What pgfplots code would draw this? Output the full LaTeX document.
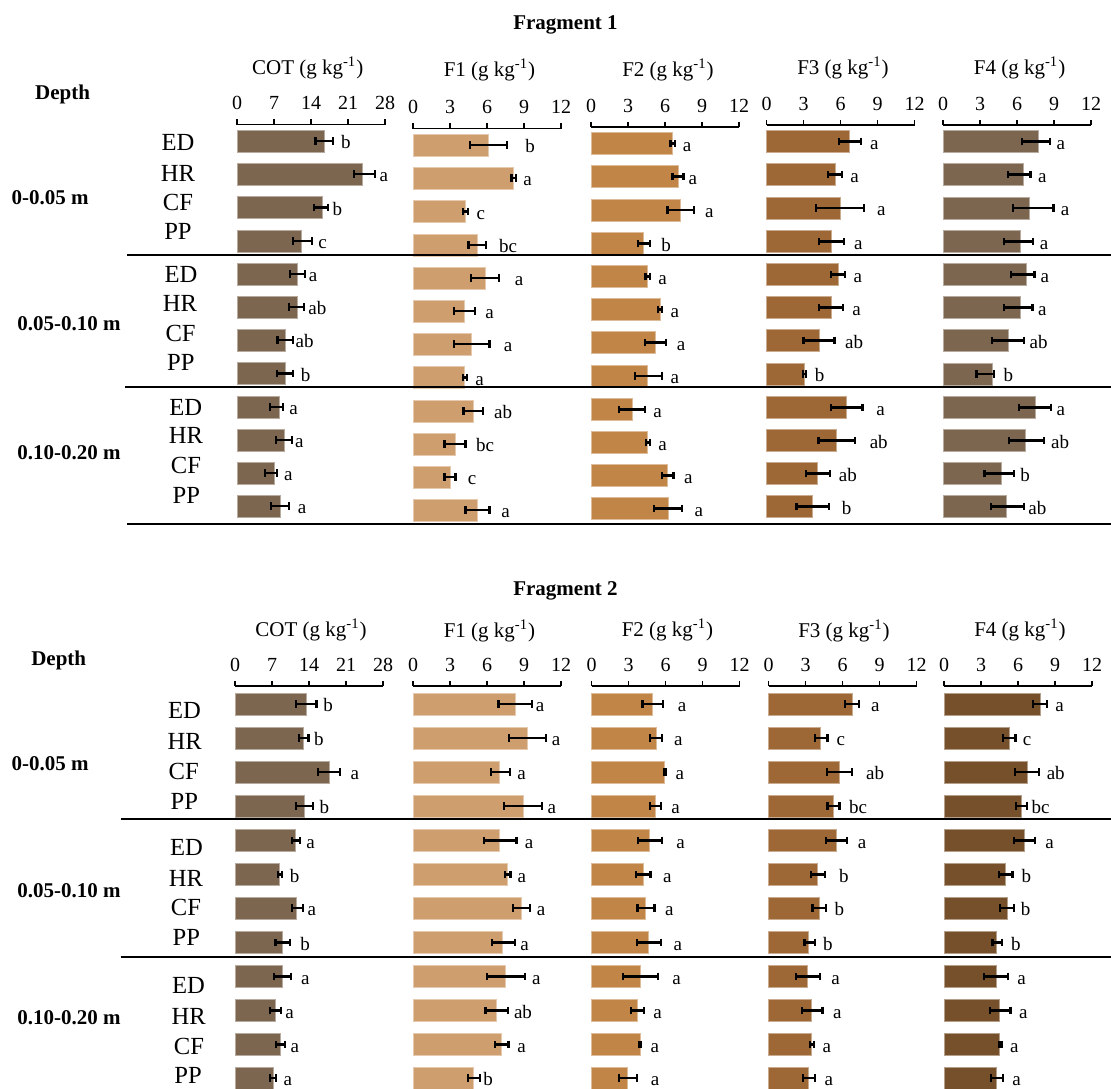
\documentclass[border=0pt]{standalone}
\usepackage{fontspec}
\setmainfont{Liberation Serif}
\usepackage{pgfplots}
\usepackage{pgfplotstable}
\pgfplotsset{compat=1.18}

\definecolor{cCOT}{RGB}{124,102,80}
\definecolor{cFa}{RGB}{207,158,110}
\definecolor{cFb}{RGB}{193,133,72}
\definecolor{cFc}{RGB}{157,104,53}
\definecolor{cFd}{RGB}{117,80,42}

% fragment 1 -------------------------------------------------
\pgfplotstableread{
y v em ep lx lab
141 16.45 1.6 1.65 20.6 b
174 23.8 1.6 2.3 27.8 a
207.5 16.2 1.6 0.95 19.0 b
241 12.1 1.55 2.05 16.2 c
274 11.5 1.55 1.35 14.4 a
307 11.5 1.7 1.1 15.2 ab
340 9.2 1.55 1.4 12.8 ab
373.5 9.2 1.7 1.4 13.0 b
407 8.0 1.7 0.65 10.7 a
440 9.0 1.65 1.45 11.8 a
473 7.0 1.65 0.6 9.7 a
506 8.2 1.7 1.6 12.3 a
}\tAcot
\pgfplotstableread{
y v em ep lx lab
141 6.1 1.45 1.55 9.5 b
174 8.1 0.12 0.25 9.3 a
207.5 4.25 0.17 0.2 5.5 c
241 5.2 0.7 0.75 7.7 bc
274 5.85 1.15 1.15 8.6 a
307 4.2 0.85 0.85 6.2 a
340 4.7 1.35 1.5 7.7 a
373.5 4.2 0.15 0.2 5.4 a
407 4.9 0.8 0.8 7.3 ab
440 3.4 0.85 0.85 5.85 bc
473 3.0 0.45 0.45 4.8 c
506 5.2 0.95 1.0 7.5 a
}\tAfa
\pgfplotstableread{
y v em ep lx lab
141 6.6 0.15 0.22 7.8 a
174 7.05 0.45 0.45 8.25 a
207.5 7.25 1.05 1.1 9.6 a
241 4.25 0.45 0.55 6.1 b
274 4.57 0.15 0.23 5.8 a
307 5.6 0.15 0.18 6.8 a
340 5.2 0.85 0.9 7.3 a
373.5 4.6 1.05 1.15 6.8 a
407 3.35 1.1 1.05 5.4 a
440 4.6 0.12 0.2 5.8 a
473 6.2 0.42 0.48 7.9 a
506 6.3 1.2 1.1 8.75 a
}\tAfb
\pgfplotstableread{
y v em ep lx lab
141 6.75 0.9 0.9 8.75 a
174 5.55 0.55 0.58 7.15 a
207.5 5.95 1.93 1.97 9.3 a
241 5.25 1.0 1.0 7.45 a
274 5.8 0.57 0.56 7.4 a
307 5.25 0.97 0.97 7.3 a
340 4.25 1.25 1.27 7.1 ab
373.5 3.05 0.1 0.13 4.3 b
407 6.45 1.25 1.33 9.25 a
440 5.7 1.48 1.47 9.1 ab
473 4.15 0.94 0.97 6.6 ab
506 3.75 1.32 1.34 6.5 b
}\tAfc
\pgfplotstableread{
y v em ep lx lab
141 7.75 1.32 0.92 9.55 a
174 6.55 1.3 0.55 8.05 a
207.5 7.0 1.35 1.96 9.9 a
241 6.25 1.32 1.05 8.2 a
274 6.8 1.32 0.62 8.25 a
307 6.25 1.32 1.0 8.05 a
340 5.3 1.36 1.28 7.75 ab
373.5 4.0 1.28 0.14 5.3 b
407 7.5 1.36 1.25 9.55 a
440 6.7 1.34 1.5 9.5 ab
473 4.7 1.34 1.04 6.65 b
506 5.15 1.29 1.4 7.65 ab
}\tAfd
% fragment 2 -------------------------------------------------
\pgfplotstableread{
y v em ep lx lab
704 13.46 1.95 1.95 17.6 b
738 12.95 0.87 0.95 15.85 b
772 17.8 2.1 2.1 22.65 a
806 13.1 1.6 1.6 16.9 b
840.5 11.5 0.65 0.87 14.3 a
874.5 8.47 0.3 0.43 11.3 b
908 11.7 0.95 1.1 14.55 a
942.5 9.05 1.38 1.37 13.25 b
976.5 9.05 1.67 1.6 13.3 a
1010.5 7.67 1.0 1.1 10.35 a
1044.5 8.6 0.8 0.9 11.3 a
1078 7.24 0.58 0.58 10.0 a
}\tBcot
\pgfplotstableread{
y v em ep lx lab
704 8.3 1.37 1.34 10.3 a
738 9.26 1.5 1.5 11.6 a
772 7.03 0.72 0.83 8.8 a
806 8.92 1.52 1.56 11.25 a
840.5 7.03 1.25 1.36 9.42 a
874.5 7.68 0.22 0.22 8.83 a
908 8.77 0.66 0.74 10.38 a
942.5 7.27 0.87 0.97 9.05 a
976.5 7.49 1.46 1.56 10.0 a
1010.5 6.78 0.91 0.93 8.92 ab
1044.5 7.15 0.5 0.59 8.8 a
1078 4.91 0.46 0.5 6.1 b
}\tBfa
\pgfplotstableread{
y v em ep lx lab
704 4.92 0.78 0.88 7.34 a
738 5.24 0.49 0.5 7.05 a
772 5.94 0.09 0.12 7.17 a
806 5.16 0.41 0.46 6.82 a
840.5 4.72 0.93 0.99 7.22 a
874.5 4.19 0.58 0.59 6.15 a
908 4.4 0.67 0.7 6.32 a
942.5 4.63 0.96 0.99 6.99 a
976.5 3.96 1.4 1.4 6.9 a
1010.5 3.73 0.5 0.52 5.36 a
1044.5 3.93 0.06 0.06 5.13 a
1078 2.94 0.7 0.76 5.16 a
}\tBfb
\pgfplotstableread{
y v em ep lx lab
704 6.77 0.55 0.56 8.67 a
738 4.23 0.49 0.56 5.87 c
772 5.78 1.02 0.99 8.64 ab
806 5.28 0.49 0.47 7.27 bc
840.5 5.49 0.82 0.87 7.59 a
874.5 4.0 0.55 0.55 6.1 b
908 4.09 0.53 0.58 5.75 b
942.5 3.27 0.35 0.47 4.82 b
976.5 3.18 0.93 1.02 5.43 a
1010.5 3.5 0.78 0.88 5.58 a
1044.5 3.5 0.11 0.18 4.73 a
1078 3.27 0.5 0.5 4.9 a
}\tBfc
\pgfplotstableread{
y v em ep lx lab
704 7.78 0.56 0.58 9.38 a
738 5.27 0.49 0.53 6.73 c
772 6.73 0.96 0.99 9.06 ab
806 6.26 0.4 0.47 7.84 bc
840.5 6.52 0.84 0.85 8.56 a
874.5 5.01 0.55 0.55 6.67 b
908 5.1 0.53 0.55 6.61 b
942.5 4.28 0.35 0.44 5.83 b
976.5 4.22 0.96 0.97 6.29 a
1010.5 4.51 0.81 0.88 6.44 a
1044.5 4.51 0.08 0.15 5.71 a
1078 4.28 0.46 0.5 5.88 a
}\tBfd

\newcommand{\ticfont}{\fontsize{10}{11}\selectfont}
\newcommand{\letfont}{\fontsize{9.5}{11}\selectfont}
\newcommand{\hdfont}{\fontsize{10.5}{12}\selectfont}
\newcommand{\trfont}{\fontsize{12.3}{14}\selectfont}

\pgfplotsset{
  panel/.style={
    scale only axis, width=74pt, xmin=0,
    axis x line*=top, axis y line=none,
    x axis line style={-, line width=0.75pt, black},
    tick align=outside, major tick length=2.6pt,
    xtick style={line width=0.7pt, black},
    ytick=\empty,
    xticklabel style={font=\ticfont, anchor=base, yshift=4.9pt},
    /pgf/number format/assume math mode=true,
    clip=false, enlargelimits=false,
    anchor=north west,
  }
}

% #1 x px, #2 y px (top), #3 xmax, #4 xticks, #5 ymin, #6 ymax, #7 height, #8 colour, #9 table
\newcommand{\panel}[9]{%
  \begin{axis}[panel, at={({#1*0.5pt},{-#2*0.5pt})}, xmax=#3, xtick={#4}, ymin=#5, ymax=#6, height=#7]
    \addplot[xbar, bar shift=0pt, bar width=11pt, fill=#8, draw=#8!55!white, line width=0.4pt,
      error bars/.cd, x dir=both, x explicit,
      error mark=|,
      error bar style={line width=1.1pt, black},
      error mark options={line width=1.1pt, black, mark size=1.9pt}]
      table[x=v, y expr=-\thisrow{y}, x error plus=ep, x error minus=em] {#9};
    \addplot[draw=none, nodes near coords, point meta=explicit symbolic,
      every node near coord/.append style={anchor=base, yshift=-3.8pt, font=\letfont, inner sep=0pt}]
      table[x=lx, y expr=-\thisrow{y}, meta=lab] {#9};
  \end{axis}}

\begin{document}
\begin{tikzpicture}
\useasboundingbox (0pt,0pt) rectangle (555.5pt,-544pt);

% ---------- Fragment 1 ----------
\panel{237}{124.5}{28}{0,7,14,21,28}{-524}{-124.5}{199.75pt}{cCOT}{\tAcot}
\panel{413}{128.5}{12}{0,3,6,9,12}{-524}{-124.5}{199.75pt}{cFa}{\tAfa}
\panel{591}{127}{12}{0,3,6,9,12}{-524}{-124.5}{199.75pt}{cFb}{\tAfb}
\panel{766.5}{125}{12}{0,3,6,9,12}{-524}{-124.5}{199.75pt}{cFc}{\tAfc}
\panel{943}{125}{12}{0,3,6,9,12}{-524}{-124.5}{199.75pt}{cCOT}{\tAfd}

% ---------- Fragment 2 ----------
\panel{235}{686}{28}{0,7,14,21,28}{-1088}{-686}{201pt}{cCOT}{\tBcot}
\panel{413}{686}{12}{0,3,6,9,12}{-1088}{-686}{201pt}{cFa}{\tBfa}
\panel{591.5}{686}{12}{0,3,6,9,12}{-1088}{-686}{201pt}{cFb}{\tBfb}
\panel{768.5}{686}{12}{0,3,6,9,12}{-1088}{-686}{201pt}{cFc}{\tBfc}
\panel{944}{686}{12}{0,3,6,9,12}{-1088}{-686}{201pt}{cFd}{\tBfd}

\begin{scope}[x=0.5pt, y=-0.5pt]
% titles
\node[anchor=base, font=\bfseries\hdfont] at (565.5,29.5) {Fragment 1};
\node[anchor=base, font=\bfseries\hdfont] at (565.5,595) {Fragment 2};

% column headers
\foreach \xx/\yy/\tt in {307.7/74/COT, 489.5/76.7/F1, 668/76/F2, 843/74/F3, 1019.6/74/F4,
                          311/636/COT, 489.5/637/F1, 667.5/636.7/F2, 844/637/F3, 1020/636/F4}
  \node[anchor=base, font=\hdfont, inner sep=0pt] at (\xx,\yy) {\tt\ (g kg\textsuperscript{-1})};

% depth labels
\node[anchor=base, font=\bfseries\hdfont, inner sep=0pt] at (62.6,99.3) {Depth};
\node[anchor=base, font=\bfseries\hdfont, inner sep=0pt] at (58.7,665) {Depth};
\foreach \xx/\yy/\tt in {50/197.8/0-0.05 m, 68.9/324/0.05-0.10 m, 68.9/452.6/0.10-0.20 m,
                          50.1/763.3/0-0.05 m, 68.9/890.3/0.05-0.10 m, 68.9/1017.2/0.10-0.20 m}
  \node[anchor=center, font=\bfseries\hdfont, inner sep=0pt] at (\xx,\yy) {\tt};

% treatment labels
\foreach \xx/\yy/\tt in {178/142/ED, 178/173/HR, 178/202.5/CF, 178/231.7/PP,
                          181/274.3/ED, 180/303/HR, 180.6/333/CF, 180.8/362.8/PP,
                          185.8/407/ED, 186/435.8/HR, 186/465.8/CF, 186.4/495.8/PP,
                          184.6/710/ED, 184.6/741.7/HR, 183.7/771.7/CF, 184.3/801.7/PP,
                          186.4/847/ED, 186/878.7/HR, 186/907.7/CF, 186.4/937.7/PP,
                          188.5/985.8/ED, 188.6/1016/HR, 189/1046/CF, 188/1075.8/PP}
  \node[anchor=center, font=\trfont, inner sep=0pt] at (\xx,\yy) {\tt};

% separator lines
\draw[line width=0.85pt] (127,255) -- (1111,255);
\draw[line width=0.55pt] (125,387) -- (1111,387);
\draw[line width=0.85pt] (127,524) -- (1111,524);
\draw[line width=0.85pt] (120.5,819) -- (1111,819);
\draw[line width=0.85pt] (120.5,957) -- (1111,957);
\end{scope}
\end{tikzpicture}
\end{document}
